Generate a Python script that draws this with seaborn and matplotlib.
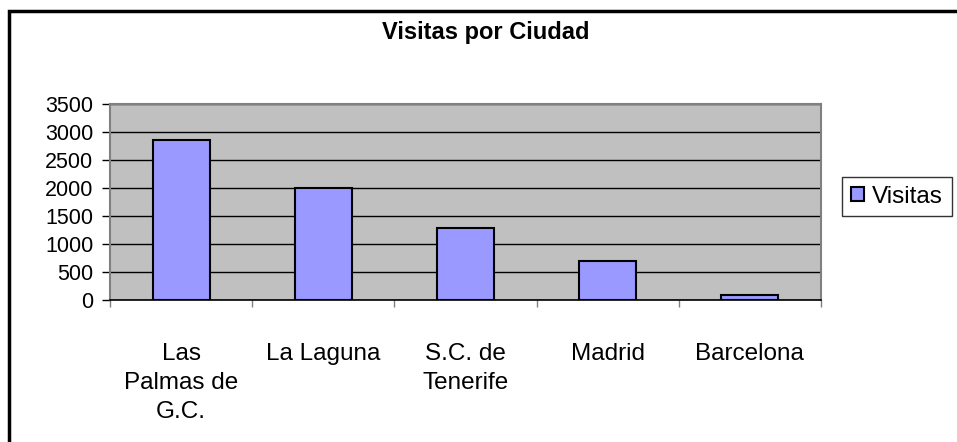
import matplotlib
matplotlib.use('Agg')
import matplotlib.pyplot as plt
import seaborn as sns
import pandas as pd
from matplotlib.patches import Rectangle

ciudades = ['Las\nPalmas de\nG.C.', 'La Laguna', 'S.C. de\nTenerife', 'Madrid', 'Barcelona']
visitas = [2850, 2000, 1280, 700, 90]
y_ticks = [0, 500, 1000, 1500, 2000, 2500, 3000, 3500]

sns.set_theme(style='white')
plt.rcParams['font.family'] = ['Liberation Sans', 'DejaVu Sans']
plt.rcParams['text.color'] = 'black'
plt.rcParams['xtick.color'] = 'black'
plt.rcParams['ytick.color'] = 'black'

df = pd.DataFrame({'ciudad': ciudades, 'visitas': visitas})

W, H = 957, 442
fig = plt.figure(figsize=(W / 100, H / 100), dpi=100)
ax = fig.add_axes([110 / W, 1 - 300 / H, (821 - 110) / W, (300 - 104) / H])

sns.barplot(data=df, x='ciudad', y='visitas', ax=ax, color='#9999FF', saturation=1,
            edgecolor='black', linewidth=1.5, width=0.4, label='Visitas')
if ax.get_legend() is not None:
    ax.get_legend().remove()

ax.set_facecolor('#C0C0C0')
ax.set_xlim(-0.5, 4.5)
ax.set_ylim(0, 3500)
ax.set_yticks(y_ticks)
ax.grid(axis='y', color='black', linewidth=1)
ax.grid(axis='x', visible=False)
ax.set_axisbelow(True)
ax.set_xlabel('')
ax.set_ylabel('')

for s in ['top', 'right', 'left']:
    ax.spines[s].set_color('#808080')
    ax.spines[s].set_linewidth(1.5)
ax.spines['bottom'].set_color('black')
ax.spines['bottom'].set_linewidth(1.2)

ax.tick_params(axis='y', length=6, width=1, color='black', pad=6, labelsize=15.5, left=True)
ax.set_xticks([-0.5, 0.5, 1.5, 2.5, 3.5, 4.5], minor=True)
ax.tick_params(axis='x', which='minor', length=5, width=1, color='#808080', bottom=True)
ax.tick_params(axis='x', which='major', length=0, pad=31, labelsize=17.5)
for lbl in ax.get_xticklabels():
    lbl.set_linespacing(1.4)
    lbl.set_multialignment('center')

fig.text(486 / W, 1 - 33 / H, 'Visitas por Ciudad', ha='center', va='center',
         fontsize=17, fontweight='bold')

handles, labels = ax.get_legend_handles_labels()
leg = fig.legend(handles, labels, loc='upper left', bbox_to_anchor=(842 / W, 1 - 177 / H),
                 frameon=True, fancybox=False, edgecolor='black', fontsize=17.5,
                 handlelength=0.55, handleheight=0.55, handletextpad=0.35,
                 borderpad=0.35, borderaxespad=0)
leg.get_frame().set_linewidth(1)

fig.patches.append(Rectangle((9 / W, -0.1), 1.2, 1 - 10.5 / H + 0.1, transform=fig.transFigure,
                             fill=False, edgecolor='black', linewidth=2.5))

fig.savefig('out.png', dpi=100)
